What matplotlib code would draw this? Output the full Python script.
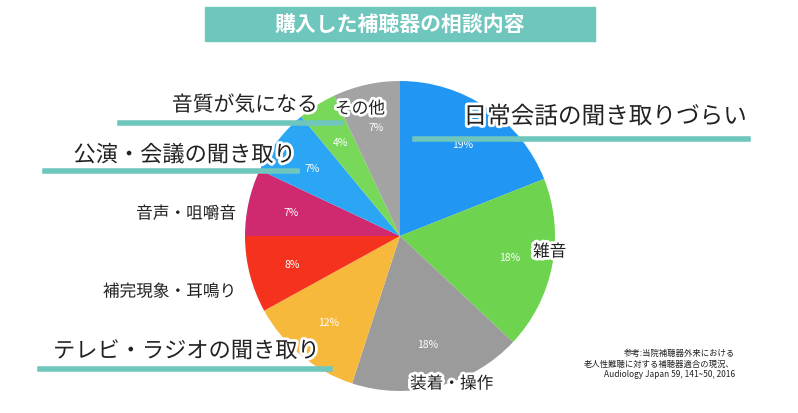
import matplotlib
matplotlib.use('Agg')
import matplotlib.pyplot as plt
import matplotlib.patheffects as pe

plt.rcParams['font.family'] = ['Noto Sans CJK JP', 'DejaVu Sans']

categories = ['日常会話の聞き取りづらい', '雑音', '装着・操作', 'テレビ・ラジオの聞き取り',
              '補完現象・耳鳴り', '音声・咀嚼音', '公演・会議の聞き取り', '音質が気になる', 'その他']
values = [19, 18, 18, 12, 8, 7, 7, 4, 7]
colors = ['#2196F3', '#6ED34E', '#9B9B9B', '#F6B93B', '#F4321D', '#CF2A6F', '#2AA6F4', '#77D85A', '#A3A3A3']
teal = '#6EC6BD'

W, H = 798, 414


def main():
    fig = plt.figure(figsize=(W / 100, H / 100), dpi=100)
    ax = fig.add_axes([0, 0, 1, 1])

    wedges, texts, autotexts = ax.pie(values, colors=colors, startangle=90, counterclock=False,
                                      center=(400, H - 237), radius=155, autopct='%d%%',
                                      pctdistance=0.72, frame=True,
                                      textprops=dict(color='white', fontsize=7.5))
    for w in wedges:
        w.set_zorder(1)
    for t in autotexts:
        t.set_zorder(2)
    ax.set_xlim(0, W)
    ax.set_ylim(0, H)
    ax.set_aspect('equal')
    ax.axis('off')

    # teal underlines
    ax.plot([415, 748], [H - 140, H - 140], color=teal, lw=4, zorder=3)
    ax.plot([120, 340], [H - 124, H - 124], color=teal, lw=4, zorder=3)
    ax.plot([45, 297], [H - 172, H - 172], color=teal, lw=4, zorder=3)
    ax.plot([40, 330], [H - 370, H - 370], color=teal, lw=4, zorder=3)

    glow = [pe.withStroke(linewidth=4, foreground='white')]
    labels = [
        (categories[0], 747, 118, 17, 'right'),
        (categories[1], 533, 253, 12, 'left'),
        (categories[2], 410, 385, 12, 'left'),
        (categories[3], 320, 352, 16, 'right'),
        (categories[4], 236, 293, 12, 'right'),
        (categories[5], 236, 215, 12, 'right'),
        (categories[6], 296, 156, 16, 'right'),
        (categories[7], 318, 106, 15, 'right'),
        (categories[8], 335, 110, 12, 'left'),
    ]
    for text, x, y, fs, ha in labels:
        ax.text(x, H - y, text, fontsize=fs, ha=ha, va='center', color='#222222',
                zorder=4, path_effects=glow)

    # title box
    ax.add_patch(plt.Rectangle((205, H - 42), 390, 34, color=teal, zorder=4))
    ax.text(400, H - 25, '購入した補聴器の相談内容', fontsize=15, fontweight='bold',
            color='white', ha='center', va='center', zorder=5)

    ax.text(735, H - 364, '参考:当院補聴器外来における\n老人性難聴に対する補聴器適合の現況、\nAudiology Japan 59, 141~50, 2016',
            fontsize=6, ha='right', va='center', color='#222222', linespacing=1.2, zorder=4)

    plt.savefig('out.png', dpi=100, facecolor='white')


if __name__ == '__main__':
    main()
